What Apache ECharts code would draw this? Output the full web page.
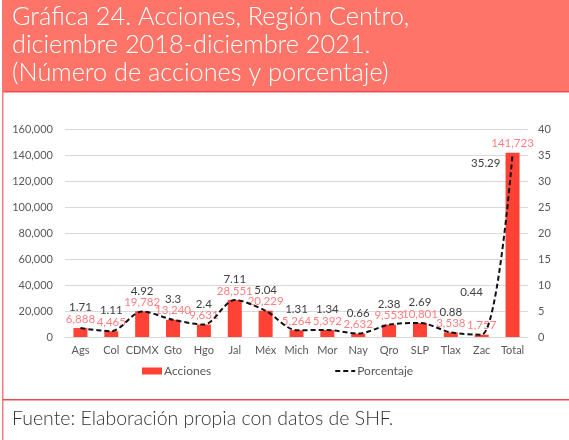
<!DOCTYPE html>
<html>
<head>
<meta charset="utf-8">
<script src="https://cdn.jsdelivr.net/npm/echarts@6/dist/echarts.min.js"></script>
<style>
  html, body { margin: 0; padding: 0; background: #fff; }
  #myChart { width: 569px; height: 440px; }
</style>
</head>
<body>
<div id="myChart"></div>
<script>
// estados de la región centro
const categories = ['Ags', 'Col', 'CDMX', 'Gto', 'Hgo', 'Jal', 'Méx', 'Mich', 'Mor', 'Nay', 'Qro', 'SLP', 'Tlax', 'Zac', 'Total']
const acciones = [6888, 4465, 19782, 13240, 9631, 28551, 20229, 5264, 5392, 2632, 9553, 10801, 3538, 1757, 141723]
const porcentaje = [1.71, 1.11, 4.92, 3.3, 2.4, 7.11, 5.04, 1.31, 1.34, 0.66, 2.38, 2.69, 0.88, 0.44, 35.29]
const leftTicks = [0, 20000, 40000, 60000, 80000, 100000, 120000, 140000, 160000]
const rightTicks = [0, 5, 10, 15, 20, 25, 30, 35, 40]

const font = 'Lato'
const gray = '#595959'

let lineData = porcentaje.map((v, i) => {
    let item = { value: v }
    if (categories[i] === 'Zac') {
        item.label = { position: [-21, -48] }
    }
    if (categories[i] === 'Total') {
        item.label = { position: [-41, 4] }
    }
    return item
})

let myChart = echarts.init(document.getElementById('myChart'))
let option = {
    animation: false,
    textStyle: { fontFamily: font },
    title: [
        {
            text: 'Gráfica 24. Acciones, Región Centro,\ndiciembre 2018-diciembre 2021.\n(Número de acciones y porcentaje)',
            left: 10,
            top: 3,
            padding: [0, 0, 0, 2],
            textStyle: { color: '#fff', fontSize: 25.3, fontWeight: 300, lineHeight: 28, fontFamily: font }
        },
        {
            text: 'Fuente: Elaboración propia con datos de SHF.',
            left: 11,
            top: 409,
            padding: [0, 0, 0, 1],
            textStyle: { color: '#333', fontSize: 19.5, fontWeight: 300, fontFamily: font }
        }
    ],
    graphic: [
        { type: 'rect', z: -1, shape: { x: 3, y: 0, width: 566, height: 92 }, style: { fill: '#FF7468' } },
        { type: 'rect', z: -1, shape: { x: 3, y: 91, width: 566, height: 1.5 }, style: { fill: '#F04850' } },
        { type: 'rect', z: -1, shape: { x: 2, y: 0, width: 1.5, height: 440 }, style: { fill: '#F07A80' } },
        { type: 'rect', z: -1, shape: { x: 3, y: 399, width: 566, height: 1.5 }, style: { fill: '#F04850' } }
    ],
    legend: {
        top: 365,
        left: 142,
        padding: 0,
        itemGap: 123,
        itemWidth: 20,
        itemHeight: 7,
        textStyle: { color: gray, fontSize: 12, fontFamily: font, padding: [0, 0, 0, -3] },
        data: [
            { name: 'Acciones', icon: 'rect' },
            { name: 'Porcentaje', itemStyle: { opacity: 0 } }
        ]
    },
    grid: { left: 65, right: 41, top: 129, bottom: 103 },
    xAxis: {
        type: 'category',
        data: categories,
        axisTick: { show: false },
        axisLine: { lineStyle: { color: '#D9D9D9' } },
        axisLabel: { color: gray, fontSize: 11, margin: 8, interval: 0 }
    },
    yAxis: [
        {
            type: 'value',
            min: 0,
            max: leftTicks[leftTicks.length - 1],
            interval: leftTicks[1] - leftTicks[0],
            axisLabel: {
                color: gray, fontSize: 11, margin: 12,
                formatter: v => v.toLocaleString('en-US')
            },
            splitLine: { lineStyle: { color: '#D9D9D9' } }
        },
        {
            type: 'value',
            min: 0,
            max: rightTicks[rightTicks.length - 1],
            interval: rightTicks[1] - rightTicks[0],
            axisLabel: { color: gray, fontSize: 11, margin: 10 },
            splitLine: { show: false }
        }
    ],
    series: [
        {
            name: 'Acciones',
            type: 'bar',
            barWidth: 14,
            itemStyle: { color: '#FF4136' },
            label: {
                show: true,
                position: 'top',
                distance: 3,
                color: '#FF7F7F',
                fontSize: 11.5,
                formatter: p => p.value.toLocaleString('en-US')
            },
            data: acciones
        },
        {
            name: 'Porcentaje',
            type: 'line',
            yAxisIndex: 1,
            smooth: 0.3,
            symbol: 'circle',
            symbolSize: 1,
            showSymbol: true,
            z: 5,
            lineStyle: { color: '#111', width: 2, type: [5, 3] },
            itemStyle: { color: 'rgba(0,0,0,0)' },
            label: {
                show: true,
                position: 'top',
                distance: 14,
                color: '#404040',
                fontSize: 11.5
            },
            labelLayout: { hideOverlap: false },
            data: lineData
        }
    ]
}
myChart.setOption(option)
</script>
</body>
</html>
